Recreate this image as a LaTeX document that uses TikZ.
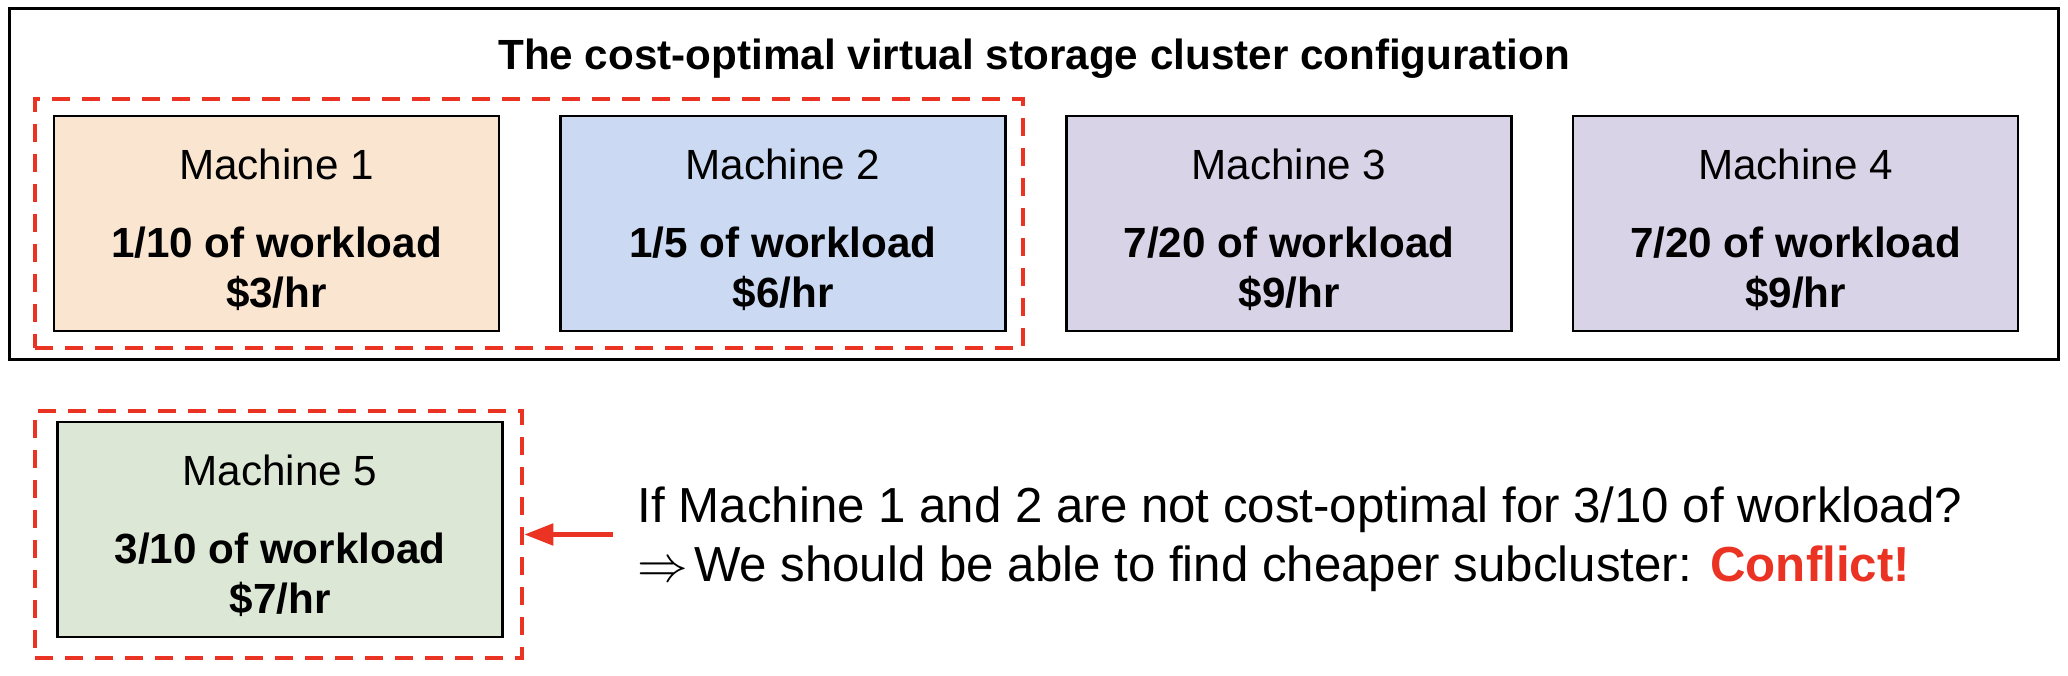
\documentclass[tikz,border=0pt]{standalone}
\usepackage{fontspec}
\setmainfont{Liberation Sans}
\usetikzlibrary{arrows.meta}

\definecolor{conflictred}{RGB}{234,51,35}
\definecolor{orangefill}{RGB}{249,229,208}
\definecolor{bluefill}{RGB}{203,217,243}
\definecolor{purplefill}{RGB}{217,211,231}
\definecolor{greenfill}{RGB}{220,232,213}

\begin{document}
\begin{tikzpicture}[x=0.01cm,y=-0.01cm]

        \useasboundingbox (0,0) rectangle (2068,676);

        \node[draw, line width=0.8pt, minimum width=20.48cm, minimum height=3.515cm] (cluster) at (1034,184) {};
        \node[anchor=base, font=\fontsize{12}{14}\selectfont\bfseries] (title) at (1034,70)
          {The cost-optimal virtual storage cluster configuration};

        \begin{scope}[every node/.style={draw, line width=0.7pt, minimum width=4.45cm,
            minimum height=2.15cm, align=center, font=\fontsize{12}{14}\selectfont}]
          \node[fill=orangefill] (m1) at (276.5,223.5)
            {\rule{0pt}{0.43cm}Machine 1\\[0.29cm]\textbf{1/10 of workload}\\\textbf{\$3/hr}};
          \node[fill=bluefill] (m2) at (783,223.5)
            {\rule{0pt}{0.43cm}Machine 2\\[0.29cm]\textbf{1/5 of workload}\\\textbf{\$6/hr}};
          \node[fill=purplefill] (m3) at (1289,223.5)
            {\rule{0pt}{0.43cm}Machine 3\\[0.29cm]\textbf{7/20 of workload}\\\textbf{\$9/hr}};
          \node[fill=purplefill] (m4) at (1795.5,223.5)
            {\rule{0pt}{0.43cm}Machine 4\\[0.29cm]\textbf{7/20 of workload}\\\textbf{\$9/hr}};
          \node[fill=greenfill] (m5) at (280,529.5)
            {\rule{0pt}{0.43cm}Machine 5\\[0.29cm]\textbf{3/10 of workload}\\\textbf{\$7/hr}};
        \end{scope}

        \begin{scope}[every node/.style={draw=conflictred, line width=1.2pt,
            dash pattern=on 0.18cm off 0.12cm}]
          \node[minimum width=9.88cm, minimum height=2.49cm] (f12) at (529,223.5) {};
          \node[minimum width=4.87cm, minimum height=2.47cm] (f5) at (278.5,534.5) {};
        \end{scope}

        \node[anchor=west, inner sep=0pt, align=left, font=\fontsize{14}{16.8}\selectfont] (claim) at (637,539.5)
          {If Machine 1 and 2 are not cost-optimal for 3/10 of workload?\\
           $\Rightarrow$\kern-0.08cm{} We should be able to find cheaper subcluster: \textbf{\color{conflictred}Conflict!}};

        \draw[-{Triangle[length=0.29cm,width=0.21cm]}, conflictred, line width=1.4pt, shorten <=0.24cm]
          (claim.west |- f5.east) -- (f5.east);

      \end{tikzpicture}
\end{document}
